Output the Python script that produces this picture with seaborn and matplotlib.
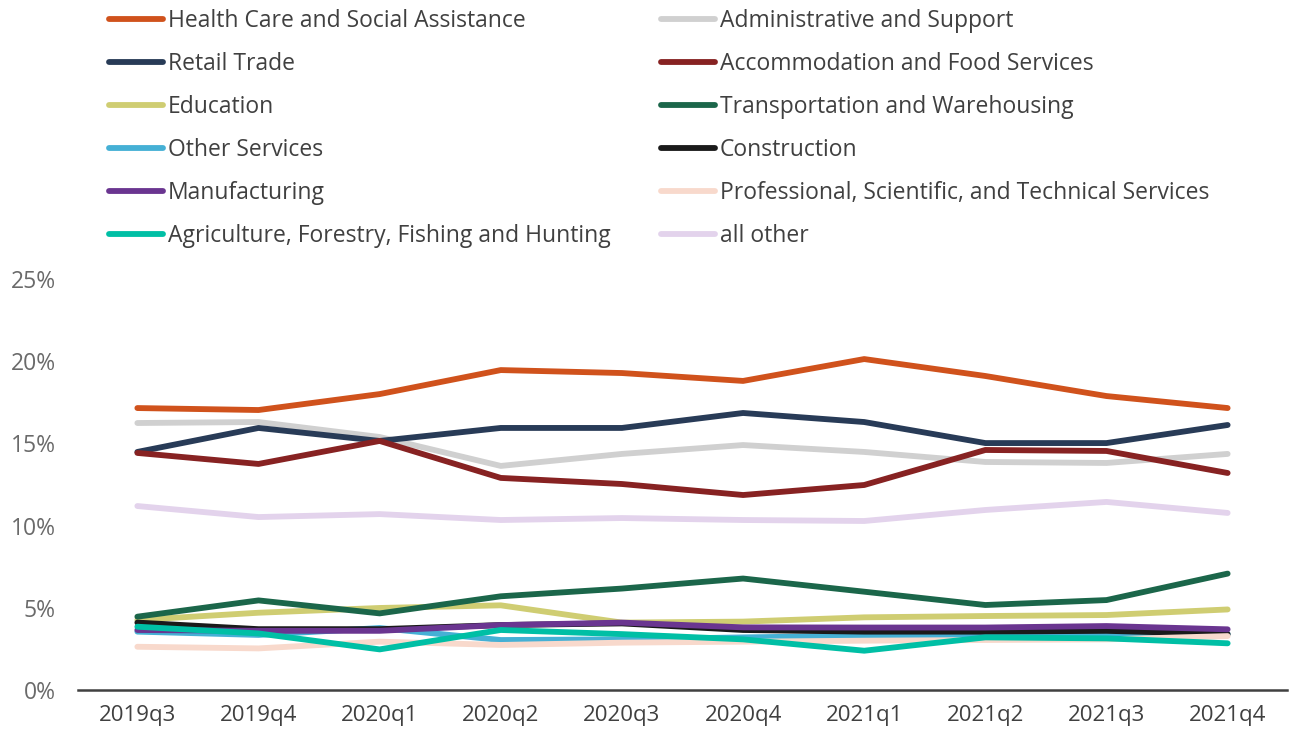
import matplotlib
matplotlib.use("Agg")
import matplotlib.pyplot as plt
import seaborn as sns
import pandas as pd
from matplotlib.ticker import FuncFormatter
from matplotlib.lines import Line2D

quarters = ["2019q3", "2019q4", "2020q1", "2020q2", "2020q3", "2020q4",
            "2021q1", "2021q2", "2021q3", "2021q4"]

health = [17.15, 17.03, 18.0, 19.46, 19.28, 18.8, 20.13, 19.1, 17.88, 17.15]
admin = [16.24, 16.3, 15.39, 13.63, 14.36, 14.9, 14.48, 13.87, 13.81, 14.36]
retail = [14.48, 15.94, 15.15, 15.94, 15.94, 16.85, 16.3, 15.02, 15.02, 16.12]
accom = [14.42, 13.75, 15.15, 12.9, 12.53, 11.86, 12.47, 14.6, 14.54, 13.2]
education = [4.26, 4.7, 4.99, 5.15, 4.1, 4.16, 4.42, 4.5, 4.56, 4.9]
transport = [4.46, 5.45, 4.66, 5.7, 6.17, 6.78, 5.98, 5.17, 5.47, 7.08]
other_services = [3.55, 3.35, 3.77, 3.04, 3.08, 3.2, 3.3, 3.3, 3.3, 3.4]
construction = [4.1, 3.7, 3.7, 3.95, 4.05, 3.65, 3.55, 3.55, 3.6, 3.4]
manufacturing = [3.65, 3.6, 3.6, 3.95, 4.1, 3.81, 3.8, 3.8, 3.89, 3.69]
professional = [2.63, 2.53, 2.94, 2.74, 2.88, 2.94, 3.0, 3.04, 3.08, 3.28]
agriculture = [3.85, 3.44, 2.47, 3.65, 3.4, 3.08, 2.39, 3.2, 3.14, 2.84]
all_other = [11.19, 10.52, 10.7, 10.34, 10.46, 10.34, 10.28, 10.95, 11.44, 10.77]

series = [
    ("Health Care and Social Assistance", health, "#D0521C"),
    ("Administrative and Support", admin, "#D0D0D0"),
    ("Retail Trade", retail, "#283B57"),
    ("Accommodation and Food Services", accom, "#872222"),
    ("Education", education, "#CFCD72"),
    ("Transportation and Warehousing", transport, "#1B664A"),
    ("Other Services", other_services, "#45B0D5"),
    ("Construction", construction, "#1A1A1A"),
    ("Manufacturing", manufacturing, "#6A3590"),
    ("Professional, Scientific, and Technical Services", professional, "#F8D9CC"),
    ("Agriculture, Forestry, Fishing and Hunting", agriculture, "#00BFA5"),
    ("all other", all_other, "#E3D3EC"),
]

rows = []
for name, vals, _ in series:
    for i, (q, v) in enumerate(zip(quarters, vals)):
        rows.append({"quarter": q, "idx": i, "industry": name, "value": v})
df = pd.DataFrame(rows)

sns.set_theme(style="white")
plt.rcParams["font.family"] = ["Open Sans", "DejaVu Sans"]

fig = plt.figure(figsize=(12.9, 7.35), dpi=100)
ax = fig.add_axes([78 / 1290, 1 - 690 / 735, (1287 - 78) / 1290, (690 - 279) / 735])

palette = {name: c for name, _, c in series}
sns.lineplot(data=df, x="idx", y="value", hue="industry", hue_order=[s[0] for s in series],
             palette=palette, linewidth=4.2, ax=ax, legend=False, solid_capstyle="round")

ax.set_xlim(-0.49, 9.49)
ax.set_ylim(0, 25)
ax.set_xticks(range(len(quarters)))
ax.set_xticklabels(quarters)
ax.set_yticks([0, 5, 10, 15, 20, 25])
ax.yaxis.set_major_formatter(FuncFormatter(lambda v, p: f"{int(v)}%"))
ax.set_xlabel("")
ax.set_ylabel("")
for s in ["top", "right", "left"]:
    ax.spines[s].set_visible(False)
ax.spines["bottom"].set_color("#404040")
ax.spines["bottom"].set_linewidth(1.8)
ax.tick_params(axis="x", labelsize=16, colors="#404040", pad=11, length=0)
ax.tick_params(axis="y", labelsize=16.5, colors="#6a6a6a", pad=16, length=0)
ax.grid(False)

handles = [Line2D([0], [0], color=c, lw=4.2, solid_capstyle="round") for _, _, c in series]
labels = [n for n, _, _ in series]
for col, x0 in ((0, 100), (1, 652)):
    h = handles[col::2]
    l = labels[col::2]
    leg = fig.legend(h, l, loc="upper left",
                     bbox_to_anchor=(x0 / 1290, 1.0), frameon=False,
                     fontsize=16.5, handlelength=2.35, handletextpad=0.22,
                     labelspacing=0.83, borderaxespad=0.0)
    for t in leg.get_texts():
        t.set_color("#404040")

fig.savefig("out.png", dpi=100)
